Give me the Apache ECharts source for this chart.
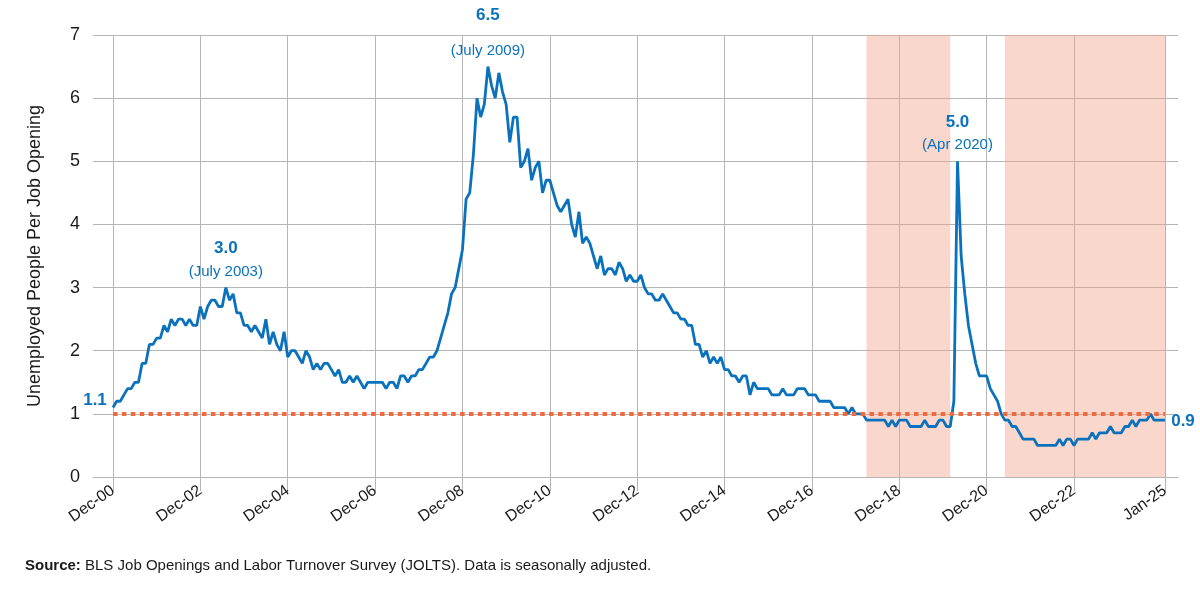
<!DOCTYPE html>
<html>
<head>
<meta charset="utf-8">
<title>Unemployed People Per Job Opening</title>
<script src="https://cdn.jsdelivr.net/npm/echarts/dist/echarts.min.js"></script>
<style>
  html, body { margin: 0; padding: 0; background: #fff; }
  #chart { width: 1200px; height: 600px; }
</style>
</head>
<body>
<div id="chart"></div>
<script>
  // monthly ratio, Dec 2000 .. Jan 2025
  const r2000 = [1.1]
  const r2001 = [1.2, 1.2, 1.3, 1.4, 1.4, 1.5, 1.5, 1.8, 1.8, 2.1, 2.1, 2.2]
  const r2002 = [2.2, 2.4, 2.3, 2.5, 2.4, 2.5, 2.5, 2.4, 2.5, 2.4, 2.4, 2.7]
  const r2003 = [2.5, 2.7, 2.8, 2.8, 2.7, 2.7, 3.0, 2.8, 2.9, 2.6, 2.6, 2.4]
  const r2004 = [2.4, 2.3, 2.4, 2.3, 2.2, 2.5, 2.1, 2.3, 2.1, 2.0, 2.3, 1.9]
  const r2005 = [2.0, 2.0, 1.9, 1.8, 2.0, 1.9, 1.7, 1.8, 1.7, 1.8, 1.8, 1.7]
  const r2006 = [1.6, 1.7, 1.5, 1.5, 1.6, 1.5, 1.6, 1.5, 1.4, 1.5, 1.5, 1.5]
  const r2007 = [1.5, 1.5, 1.4, 1.5, 1.5, 1.4, 1.6, 1.6, 1.5, 1.6, 1.6, 1.7]
  const r2008 = [1.7, 1.8, 1.9, 1.9, 2.0, 2.2, 2.4, 2.6, 2.9, 3.0, 3.3, 3.6]
  const r2009 = [4.4, 4.5, 5.1, 6.0, 5.7, 5.9, 6.5, 6.2, 6.0, 6.4, 6.1, 5.9]
  const r2010 = [5.3, 5.7, 5.7, 4.9, 5.0, 5.2, 4.7, 4.9, 5.0, 4.5, 4.7, 4.7]
  const r2011 = [4.5, 4.3, 4.2, 4.3, 4.4, 4.0, 3.8, 4.2, 3.7, 3.8, 3.7, 3.5]
  const r2012 = [3.3, 3.5, 3.2, 3.3, 3.3, 3.2, 3.4, 3.3, 3.1, 3.2, 3.1, 3.1]
  const r2013 = [3.2, 3.0, 2.9, 2.9, 2.8, 2.8, 2.9, 2.8, 2.7, 2.6, 2.6, 2.5]
  const r2014 = [2.5, 2.4, 2.4, 2.1, 2.1, 1.9, 2.0, 1.8, 1.9, 1.8, 1.9, 1.7]
  const r2015 = [1.7, 1.6, 1.6, 1.5, 1.6, 1.6, 1.3, 1.5, 1.4, 1.4, 1.4, 1.4]
  const r2016 = [1.3, 1.3, 1.3, 1.4, 1.3, 1.3, 1.3, 1.4, 1.4, 1.4, 1.3, 1.3]
  const r2017 = [1.3, 1.2, 1.2, 1.2, 1.2, 1.1, 1.1, 1.1, 1.1, 1.0, 1.1, 1.0]
  const r2018 = [1.0, 1.0, 0.9, 0.9, 0.9, 0.9, 0.9, 0.9, 0.8, 0.9, 0.8, 0.9]
  const r2019 = [0.9, 0.9, 0.8, 0.8, 0.8, 0.8, 0.9, 0.8, 0.8, 0.8, 0.9, 0.9]
  const r2020 = [0.8, 0.8, 1.2, 5.0, 3.5, 2.9, 2.4, 2.1, 1.8, 1.6, 1.6, 1.6]
  const r2021 = [1.4, 1.3, 1.2, 1.0, 0.9, 0.9, 0.8, 0.8, 0.7, 0.6, 0.6, 0.6]
  const r2022 = [0.6, 0.5, 0.5, 0.5, 0.5, 0.5, 0.5, 0.6, 0.5, 0.6, 0.6, 0.5]
  const r2023 = [0.6, 0.6, 0.6, 0.6, 0.7, 0.6, 0.7, 0.7, 0.7, 0.8, 0.7, 0.7]
  const r2024 = [0.7, 0.8, 0.8, 0.9, 0.8, 0.9, 0.9, 0.9, 1.0, 0.9, 0.9, 0.9]
  const r2025 = [0.9]

  const tickLabels = ['Dec-00', 'Dec-02', 'Dec-04', 'Dec-06', 'Dec-08', 'Dec-10',
    'Dec-12', 'Dec-14', 'Dec-16', 'Dec-18', 'Dec-20', 'Dec-22', 'Jan-25']
  const yTicks = [0, 1, 2, 3, 4, 5, 6, 7]

  // periods with less than one unemployed person per opening
  const shaded = [['Mar-18', 'Feb-20'], ['May-21', 'Jan-25']]

  // peaks + end points that get a text callout
  const callouts = [
    { at: 'Jul-03', value: 3.0, when: '(July 2003)' },
    { at: 'Jul-09', value: 6.5, when: '(July 2009)' },
    { at: 'Apr-20', value: 5.0, when: '(Apr 2020)' }
  ]
  const firstLabel = { at: 'Dec-00', value: 1.1 }
  const lastLabel = { at: 'Jan-25', value: 0.9 }

  const ratio = [].concat(r2000, r2001, r2002, r2003, r2004, r2005, r2006, r2007,
    r2008, r2009, r2010, r2011, r2012, r2013, r2014, r2015, r2016, r2017, r2018,
    r2019, r2020, r2021, r2022, r2023, r2024, r2025)

  const monNames = ['Jan', 'Feb', 'Mar', 'Apr', 'May', 'Jun', 'Jul', 'Aug', 'Sep', 'Oct', 'Nov', 'Dec']
  const months = ratio.map(function (v, i) {
    const m = (11 + i) % 12
    const y = 2000 + Math.floor((11 + i) / 12)
    return monNames[m] + '-' + String(y % 100).padStart(2, '0')
  })
  const tickSet = new Set(tickLabels)
  const isTick = function (idx, val) { return tickSet.has(val) }

  const BLUE = '#0a72bc'
  const GRID = '#b5b5b5'
  const TXT = '#1a1a1a'
  const FONT = 'Liberation Sans, Arial, sans-serif'

  const marks = []
  callouts.forEach(function (c) {
    const offs = c.value > 6 ? [-51, -16] : [-39, -16]
    marks.push({
      coord: [c.at, c.value],
      label: { formatter: c.value.toFixed(1), offset: [0, offs[0]], fontWeight: 'bold', fontSize: 17 }
    })
    marks.push({
      coord: [c.at, c.value],
      label: { formatter: c.when, offset: [0, offs[1]], fontSize: 15 }
    })
  })
  marks.push({
    coord: [firstLabel.at, firstLabel.value],
    label: { formatter: firstLabel.value.toFixed(1), offset: [-18, -7], fontWeight: 'bold', fontSize: 17 }
  })
  marks.push({
    coord: [lastLabel.at, lastLabel.value],
    label: { formatter: lastLabel.value.toFixed(1), offset: [18, 1], fontWeight: 'bold', fontSize: 17 }
  })

  const chart = echarts.init(document.getElementById('chart'), null, { renderer: 'canvas' })
  chart.setOption({
    animation: false,
    textStyle: { fontFamily: FONT },
    grid: [
      { left: 93, right: 22, top: 35, bottom: 123 },   // frame, horizontal gridlines
      { left: 113, right: 35, top: 35, bottom: 123 }   // data
    ],
    xAxis: [
      {
        gridIndex: 0, type: 'value', min: 0, max: 1,
        axisLine: { show: true, lineStyle: { color: GRID, width: 1 } },
        axisTick: { show: false }, axisLabel: { show: false }, splitLine: { show: false }
      },
      {
        gridIndex: 1, type: 'category', data: months, boundaryGap: false,
        axisLine: { show: false },
        axisTick: { show: true, interval: isTick, length: 14, lineStyle: { color: GRID } },
        axisLabel: {
          interval: isTick, rotate: 35, margin: 12, fontSize: 16, color: TXT, fontFamily: FONT
        },
        splitLine: { show: true, interval: isTick, lineStyle: { color: GRID, width: 1 } }
      }
    ],
    yAxis: [
      {
        gridIndex: 0, type: 'value', min: yTicks[0], max: yTicks[yTicks.length - 1], interval: 1,
        name: 'Unemployed People Per Job Opening',
        nameLocation: 'middle', nameGap: 49,
        nameTextStyle: { fontSize: 18, color: TXT, fontFamily: FONT },
        axisLine: { show: false }, axisTick: { show: false },
        axisLabel: { fontSize: 18, color: TXT, margin: 13, fontFamily: FONT },
        splitLine: { show: true, lineStyle: { color: GRID, width: 1 } }
      },
      {
        gridIndex: 1, type: 'value', min: 0, max: 7, show: false,
        splitLine: { show: false }
      }
    ],
    series: [
      {
        name: 'Ratio',
        type: 'line',
        xAxisIndex: 1,
        yAxisIndex: 1,
        data: ratio,
        showSymbol: false,
        symbol: 'none',
        lineStyle: { color: BLUE, width: 2.8 },
        itemStyle: { color: BLUE },
        markArea: {
          silent: true,
          itemStyle: { color: 'rgba(242,160,135,0.42)' },
          data: shaded.map(function (s) { return [{ xAxis: s[0] }, { xAxis: s[1] }] })
        },
        markLine: {
          silent: true,
          symbol: 'none',
          label: { show: false },
          lineStyle: { color: '#f26a3c', width: 4, type: [4.5, 4.4] },
          data: [{ yAxis: 1 }]
        },
        markPoint: {
          silent: true,
          symbol: 'circle',
          symbolSize: 0,
          label: { show: true, position: 'inside', color: BLUE, fontFamily: FONT },
          data: marks
        }
      }
    ],
    graphic: [
      {
        type: 'text',
        left: 25,
        top: 558,
        style: {
          text: '{b|Source:} BLS Job Openings and Labor Turnover Survey (JOLTS). Data is seasonally adjusted.',
          fontSize: 15,
          fontFamily: FONT,
          fill: TXT,
          rich: { b: { fontWeight: 'bold', fontSize: 15, fontFamily: FONT, fill: TXT } }
        }
      }
    ]
  })
</script>
</body>
</html>
